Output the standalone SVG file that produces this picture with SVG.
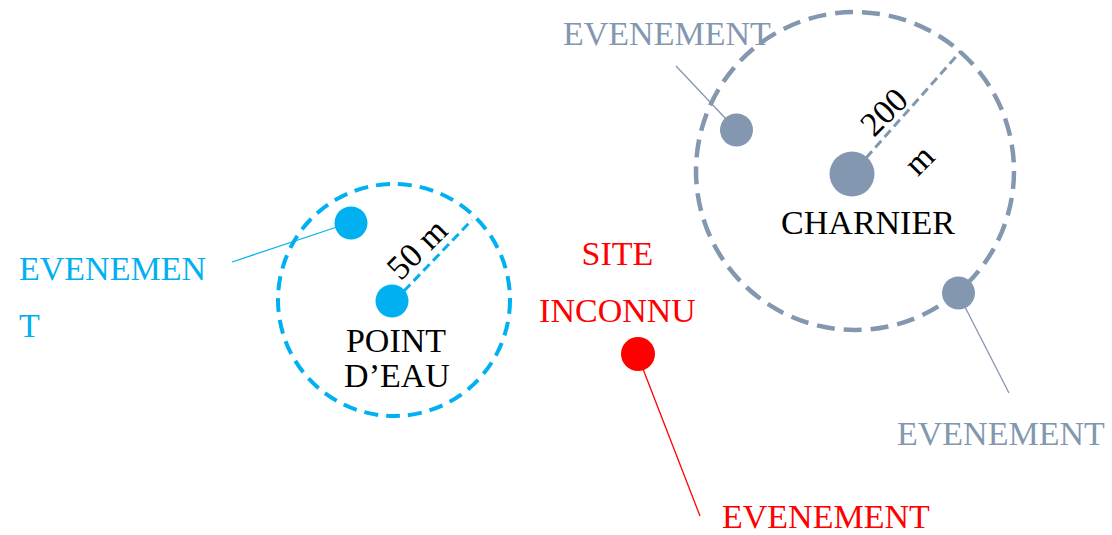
<svg xmlns="http://www.w3.org/2000/svg" width="1112" height="535" viewBox="0 0 1112 535">
  <style>
    text { font-family: "Liberation Serif", "Times New Roman", serif; font-size: 34px; }
    .blue { fill: #00B0F0; }
    .gray { fill: #8497B0; }
    .red { fill: #FF0000; }
    .black { fill: #000000; }
    .zone-blue { fill: none; stroke: #00B0F0; stroke-width: 4; stroke-dasharray: 14 8; }
    .zone-gray { fill: none; stroke: #8497B0; stroke-width: 4.5; stroke-dasharray: 18 9; }
    .leader { fill: none; stroke-width: 1.3; }
    .radius { fill: none; stroke-width: 3; stroke-dasharray: 9 5; }
  </style>

  <!-- buffer zones -->
  <g id="zone-point-eau">
    <circle class="zone-blue" cx="394" cy="300" r="116"/>
  </g>
  <g id="zone-charnier">
    <circle class="zone-gray" cx="855" cy="171" r="159"/>
  </g>

  <!-- leader lines and radius markers -->
  <g id="connectors">
    <line class="leader" stroke="#00B0F0" x1="232" y1="262" x2="337" y2="227"/>
    <line class="leader" stroke="#8497B0" x1="676" y1="66" x2="726" y2="119"/>
    <line class="leader" stroke="#8497B0" x1="965" y1="307" x2="1009" y2="393"/>
    <line class="leader" stroke="#FF0000" x1="643" y1="369" x2="700" y2="516"/>
    <line class="radius" stroke="#00B0F0" x1="404" y1="291" x2="472" y2="220"/>
    <line class="radius" stroke="#8497B0" x1="866" y1="158" x2="961" y2="51"/>
  </g>

  <!-- water point -->
  <g id="point-eau">
    <circle class="blue" cx="392" cy="301" r="16.5"/>
    <text class="black" x="396" y="352" text-anchor="middle">POINT</text>
    <text class="black" x="397" y="387" text-anchor="middle">D’EAU</text>
    <text class="black" x="425" y="257" text-anchor="middle" font-size="32" transform="rotate(-45 425 257)">50 m</text>
  </g>
  <g id="evenement-bleu">
    <circle class="blue" cx="351" cy="223" r="16.5"/>
    <text class="blue" x="19" y="280">EVENEMEN</text>
    <text class="blue" x="19" y="337">T</text>
  </g>

  <!-- mass grave -->
  <g id="charnier">
    <circle class="gray" cx="852" cy="174" r="22.5"/>
    <text class="black" x="868" y="234" text-anchor="middle">CHARNIER</text>
    <text class="black" x="892" y="120" text-anchor="middle" font-size="32" transform="rotate(-45 892 120)">200</text>
    <text class="black" x="927" y="168" text-anchor="middle" font-size="32" transform="rotate(-45 927 168)">m</text>
  </g>
  <g id="evenement-gris-haut">
    <circle class="gray" cx="736.5" cy="130" r="16.5"/>
    <text class="gray" x="563" y="45">EVENEMENT</text>
  </g>
  <g id="evenement-gris-bas">
    <circle class="gray" cx="958.5" cy="293" r="16.5"/>
    <text class="gray" x="897" y="445">EVENEMENT</text>
  </g>

  <!-- unknown site -->
  <g id="site-inconnu">
    <text class="red" x="617.5" y="265" text-anchor="middle">SITE</text>
    <text class="red" x="617.5" y="322" text-anchor="middle">INCONNU</text>
    <circle class="red" cx="638" cy="354" r="17"/>
  </g>
  <g id="evenement-rouge">
    <text class="red" x="722" y="528">EVENEMENT</text>
  </g>
</svg>
